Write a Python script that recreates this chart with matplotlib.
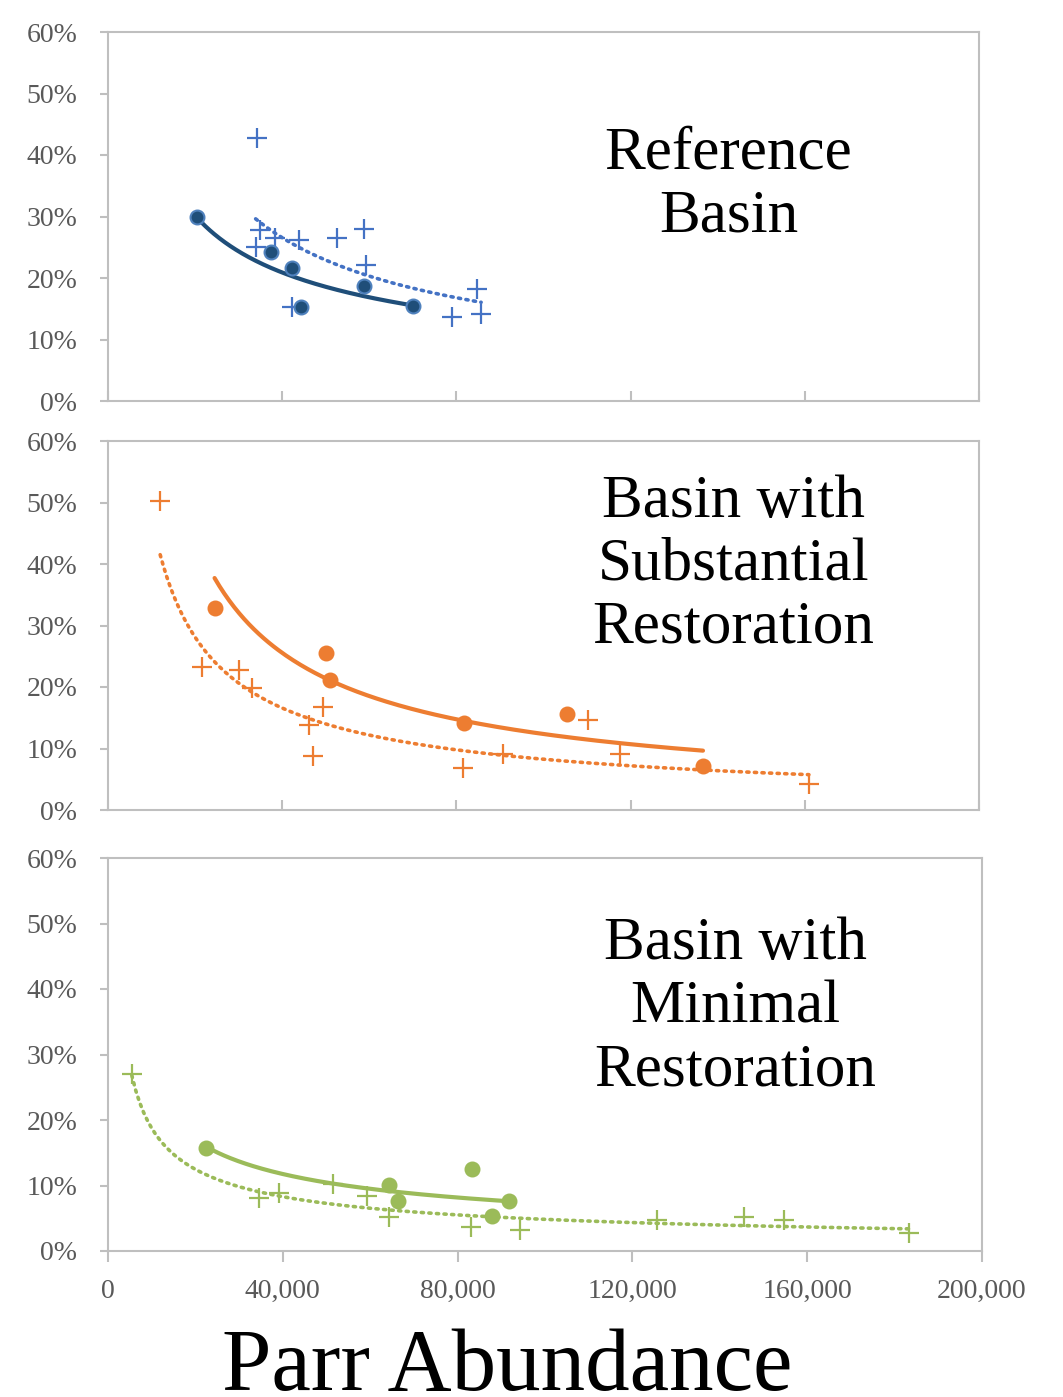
import numpy as np
import matplotlib
matplotlib.use('Agg')
import matplotlib.pyplot as plt
from matplotlib.ticker import FuncFormatter

plt.rcParams['font.family'] = ['Liberation Serif', 'DejaVu Serif']

# Reference basin
ref_circle_x = [20390, 37340, 42150, 44220, 58880, 70100]
ref_circle_y = [29.9, 24.2, 21.6, 15.3, 18.7, 15.4]
ref_plus_x = [34140, 34820, 33900, 38260, 43760, 52690, 58880, 59340, 42150, 84770, 79040, 85680]
ref_plus_y = [42.8, 27.8, 25.0, 26.5, 26.2, 26.5, 28.0, 22.1, 15.3, 18.2, 13.7, 14.1]

# Basin with substantial restoration
sub_circle_x = [24470, 50010, 50880, 81810, 105360, 136620]
sub_circle_y = [32.8, 25.6, 21.1, 14.2, 15.6, 7.2]
sub_plus_x = [11980, 21510, 29970, 33040, 49260, 46070, 47060, 81470, 90790, 110310, 117640, 160940]
sub_plus_y = [50.2, 23.2, 22.7, 19.8, 16.7, 13.8, 8.8, 6.9, 9.1, 14.6, 9.1, 4.2]

# Basin with minimal restoration
min_circle_x = [22430, 64380, 66440, 83300, 87910, 91690]
min_circle_y = [15.8, 10.1, 7.7, 12.5, 5.3, 7.6]
min_plus_x = [5450, 34550, 39040, 51530, 59180, 64270, 83070, 94230, 125520, 145530, 154620, 183370]
min_plus_y = [27.0, 8.1, 8.8, 10.3, 8.4, 5.2, 3.6, 3.2, 4.8, 5.2, 4.8, 2.8]

panel_labels = ['Reference\nBasin', 'Basin with\nSubstantial\nRestoration', 'Basin with\nMinimal\nRestoration']
x_ticks = [0, 40000, 80000, 120000, 160000, 200000]
y_ticks = [0, 10, 20, 30, 40, 50, 60]

W, H = 1063, 1397
fig = plt.figure(figsize=(W / 100, H / 100), dpi=100)

# panel boxes in pixels: left, top, right, bottom
boxes = [(108, 32, 979, 401), (108, 441, 979, 810), (108, 858, 982, 1251)]
text_pos = [(0.7125, 0.585), (0.718, 0.664), (0.718, 0.62)]

panels = [
    (ref_circle_x, ref_circle_y, ref_plus_x, ref_plus_y, '#1F4E79', '#4472C4', '#4F81BD'),
    (sub_circle_x, sub_circle_y, sub_plus_x, sub_plus_y, '#ED7D31', '#ED7D31', '#ED7D31'),
    (min_circle_x, min_circle_y, min_plus_x, min_plus_y, '#9BBB59', '#9BBB59', '#9BBB59'),
]

grey = '#BFBFBF'


def power_fit(x, y):
    b, loga = np.polyfit(np.log(x), np.log(y), 1)
    xs = np.linspace(min(x), max(x), 200)
    return xs, np.exp(loga) * xs ** b


for i, (box, panel) in enumerate(zip(boxes, panels)):
    l, t, r, b = box
    ax = fig.add_axes([l / W, 1 - b / H, (r - l) / W, (b - t) / H])
    cx, cy, px, py, ccol, pcol, cedge = panel

    xs, ys = power_fit(cx, cy)
    ax.plot(xs, ys, color=ccol, lw=3, solid_capstyle='round', zorder=2)
    xs, ys = power_fit(px, py)
    ax.plot(xs, ys, color=pcol, lw=2.6, linestyle=(0, (0.6, 1.5)), dash_capstyle='round', zorder=2)

    ax.plot(px, py, linestyle='none', marker='+', markersize=14, mew=1.6, color=pcol, zorder=3)
    ax.plot(cx, cy, linestyle='none', marker='o', markersize=10, mfc=ccol, mec=cedge, mew=1.5, zorder=4)

    xmax = 200000 * (r - l) / (982 - 108)
    ax.set_xlim(0, xmax)
    ax.set_ylim(0, 60)
    ax.set_yticks(y_ticks)
    ax.yaxis.set_major_formatter(FuncFormatter(lambda v, p: f'{v:.0f}%'))
    ax.set_xticks(x_ticks)
    for s in ax.spines.values():
        s.set_color(grey)
        s.set_linewidth(1.5)
    ax.tick_params(axis='y', direction='out', length=6, width=1.5, color=grey,
                   labelsize=20, labelcolor='#595959', pad=16)
    if i < 2:
        ax.tick_params(axis='x', direction='in', length=7, width=1.5, color=grey, labelbottom=False)
    else:
        ax.xaxis.set_major_formatter(FuncFormatter(lambda v, p: f'{v:,.0f}'))
        ax.tick_params(axis='x', direction='out', length=8, width=1.5, color=grey,
                       labelsize=20, labelcolor='#595959', pad=12)

    tx, ty = text_pos[i]
    ax.text(tx, ty, panel_labels[i], transform=ax.transAxes, ha='center', va='center',
            fontsize=44, linespacing=1.18, color='black')

fig.text(507 / W, 1 - 1390 / H, 'Parr Abundance', ha='center', va='baseline', fontsize=64)

fig.savefig('out.png', dpi=100)
